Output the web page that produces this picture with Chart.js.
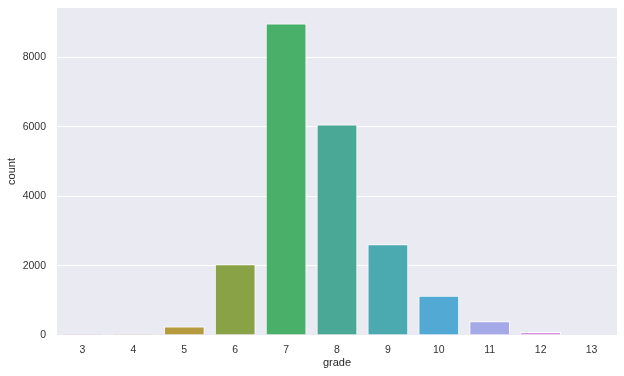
<!DOCTYPE html>
<html>
<head>
<meta charset="utf-8">
<script src="https://cdn.jsdelivr.net/npm/chart.js@4"></script>
<style>
  html, body { margin: 0; padding: 0; background: #fff; }
  #wrap { width: 624px; height: 376px; }
</style>
</head>
<body>
<div id="wrap"><canvas id="gradeChart" width="624" height="376"></canvas></div>
<script>
// grade counts
const grades = ["3", "4", "5", "6", "7", "8", "9", "10", "11", "12", "13"];
const counts = [3, 29, 242, 2038, 8981, 6068, 2615, 1134, 399, 90, 13];
const barColors = [
  "#e0808e", "#d18f4f", "#b59b3e", "#8aa246", "#48b068", "#4aa996",
  "#4aaab0", "#52aad4", "#a6a9e8", "#d98ee0", "#e088b6",
];
const yTicks = [0, 2000, 4000, 6000, 8000];

// grey panel behind the plot
const panelBg = {
  id: "panelBg",
  beforeDraw(chart) {
    const { ctx, chartArea: a } = chart;
    ctx.save();
    ctx.fillStyle = "#eaeaf2";
    ctx.fillRect(a.left, a.top, a.right - a.left, a.bottom - a.top);
    ctx.restore();
  },
};

new Chart(document.getElementById("gradeChart"), {
  type: "bar",
  data: {
    labels: grades,
    datasets: [
      {
        data: counts,
        backgroundColor: barColors,
        borderColor: "#ffffff",
        borderWidth: 1,
        categoryPercentage: 1,
        barPercentage: 0.8,
      },
    ],
  },
  options: {
    responsive: false,
    animation: false,
    layout: { padding: { left: 0, top: 8, right: 7, bottom: 2 } },
    plugins: {
      legend: { display: false },
      tooltip: { enabled: false },
    },
    scales: {
      x: {
        grid: { display: false, drawTicks: false },
        border: { display: false },
        ticks: { color: "#333", font: { family: "Liberation Sans", size: 10.5 }, padding: 9 },
        title: {
          display: true,
          text: "grade",
          color: "#262626",
          font: { family: "Liberation Sans", size: 11 },
          padding: { top: 0, bottom: 4 },
        },
        afterFit(scale) {
          scale.height = 39;
          scale.paddingLeft = 0;
          scale.paddingRight = 0;
        },
      },
      y: {
        min: 0,
        max: 9430,
        grid: { color: "#ffffff", lineWidth: 1, drawTicks: false },
        border: { display: false },
        ticks: {
          color: "#333",
          font: { family: "Liberation Sans", size: 10.5 },
          padding: 11,
          callback: (v) => String(v),
        },
        afterBuildTicks(scale) { scale.ticks = yTicks.map((v) => ({ value: v })); },
        title: {
          display: true,
          text: "count",
          color: "#262626",
          font: { family: "Liberation Sans", size: 11 },
          padding: { top: 5, bottom: 0 },
        },
        afterFit(scale) {
          scale.width = 57;
          scale.paddingTop = 0;
          scale.paddingBottom = 0;
        },
      },
    },
  },
  plugins: [panelBg],
});
</script>
</body>
</html>
